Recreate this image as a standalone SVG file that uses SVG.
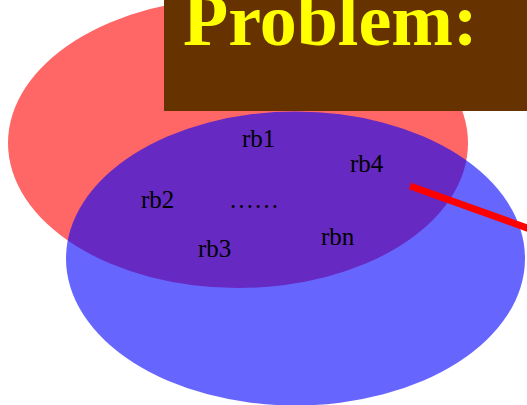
<svg xmlns="http://www.w3.org/2000/svg" width="527" height="405" viewBox="0 0 527 405">
<style>
.lbl{font-family:"Liberation Serif","Times New Roman",serif;font-size:25px;fill:#000}
.title{font-family:"Liberation Serif","Times New Roman",serif;font-size:74px;font-weight:bold;fill:#ffff00}
</style>
<rect width="527" height="405" fill="#fff"/>
<g id="setA"><ellipse cx="238" cy="143" rx="230" ry="145" fill="#ff0000" fill-opacity="0.6"/></g>
<g id="setB"><ellipse cx="295.5" cy="258.5" rx="229.5" ry="147" fill="#0000ff" fill-opacity="0.6"/></g>
<g id="title"><rect x="164" y="0" width="363" height="111" fill="#663300"/><text class="title" x="183" y="45">Problem:</text></g>
<g id="labels">
<text class="lbl" x="242" y="147">rb1</text>
<text class="lbl" x="350" y="172">rb4</text>
<text class="lbl" x="141" y="208">rb2</text>
<text class="lbl" x="229" y="208">……</text>
<text class="lbl" x="198" y="257">rb3</text>
<text class="lbl" x="321" y="245">rbn</text>
</g>
<g id="connectors"><line x1="410" y1="186" x2="530" y2="229" stroke="#ff0000" stroke-width="7"/></g>
</svg>
